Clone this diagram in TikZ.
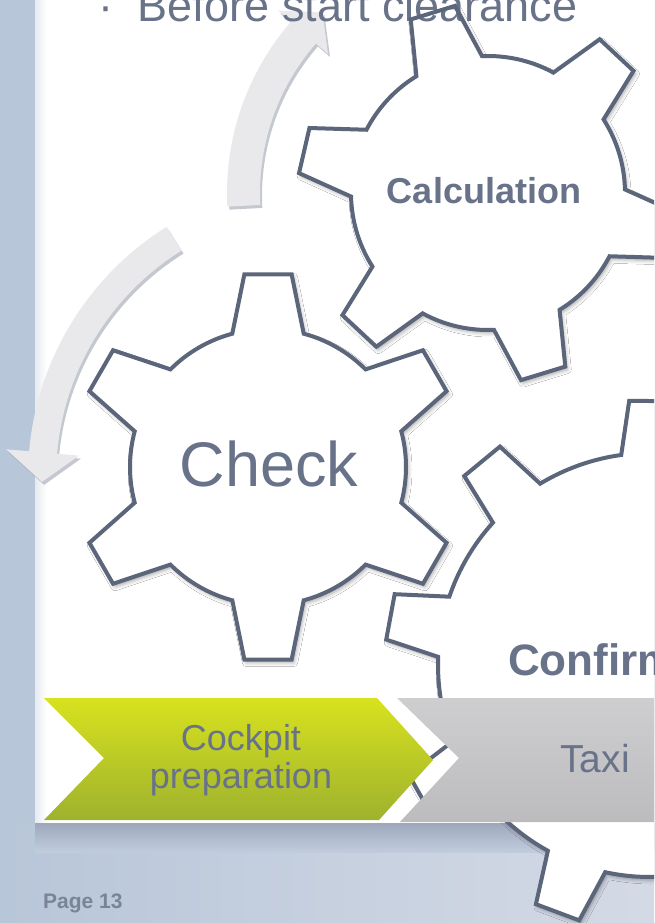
\documentclass[tikz,border=0pt]{standalone}
\usepackage{fontspec}
\setmainfont{Liberation Sans}
\usetikzlibrary{shadows,shadows.blur}

\definecolor{slidetext}{RGB}{104,114,137}
\definecolor{pagetext}{RGB}{122,132,152}
\definecolor{gearedge}{RGB}{92,102,122}
\definecolor{sidebar}{RGB}{184,198,217}
\definecolor{bgright}{RGB}{212,218,229}
\definecolor{arrowgray}{RGB}{233,233,236}
\definecolor{arrowshade}{RGB}{172,177,188}
\definecolor{greentop}{RGB}{216,226,30}
\definecolor{greenbot}{RGB}{158,178,46}
\definecolor{taxitop}{RGB}{206,205,207}
\definecolor{taxibot}{RGB}{188,187,189}

% gear outline: #1 style, #2 centre, #3 teeth, #4 first tooth angle,
% #5 root radius, #6 tip radius, #7 half angle at root, #8 half angle at tip
\newcommand{\gearshape}[8]{%
  \pgfmathtruncatemacro{\glast}{#3-1}
  \path[#1,shift={#2}] ({#4-#7}:#5)
    \foreach \k [evaluate=\k as \a using #4+360/#3*\k] in {0,...,\glast}{
      -- ({\a-#7}:#5) -- ({\a-#8}:#6) -- ({\a+#8}:#6) -- ({\a+#7}:#5)
      arc[start angle=\a+#7, end angle=\a+360/#3-#7, radius=#5]
    } -- cycle;}

\begin{document}
\begin{tikzpicture}[x=1pt,y=1pt,
    gearline/.style={draw=gearedge, line width=4pt},
    gearbody/.style={fill=white, blur shadow={shadow xshift=2pt, shadow yshift=-3pt, shadow blur radius=4pt, shadow opacity=35}},
    curvedarrow/.style={fill=arrowgray, preaction={fill=arrowshade, opacity=.7, transform canvas={shift={(2pt,-3pt)}}}},
    slide/.style={text=slidetext, inner sep=0pt}]
    \clip (0,0) rectangle (654,-923);

    % Background and slide panel
    \shade[left color=sidebar, right color=bgright] (0,0) rectangle (654,-923);
    \fill[sidebar] (0,0) rectangle (35,-823);
    \fill[white] (35,0) rectangle (654,-823);
    \shade[left color=sidebar!35, right color=white] (35,0) rectangle (47,-823);
    \shade[top color={rgb,255:red,158;green,168;blue,188}, bottom color=sidebar!70!bgright] (35,-823) rectangle (654,-852);

    % Curved arrows
    \begin{scope}[shift={(488,-193)}]
        \path[curvedarrow] (183:261) arc[start angle=183, end angle=139, radius=261]
            -- (139:278) -- (132.5:245) -- (139:212) -- (139:228)
            arc[start angle=139, end angle=183, radius=228] -- cycle;
    \end{scope}
    \begin{scope}[shift={(323,-477)}]
        \path[curvedarrow] (122:295) arc[start angle=122, end angle=175, radius=295]
            -- (175:318) -- (181:281) -- (175:245) -- (175:267)
            arc[start angle=175, end angle=122, radius=267] -- cycle;
    \end{scope}

    % Gears
    \gearshape{gearbody,gearline}{(268,-467)}{6}{30}{138}{194}{15}{7}
    \gearshape{gearbody}{(488,-193)}{6}{47}{137}{190}{14.5}{7}
    \gearshape{gearbody,gearline}{(650,-665)}{9}{9.5}{212}{265}{8.3}{5}

    % Title line
    \node[slide, font=\fontsize{45}{45}\selectfont, anchor=base] (bullet) at (106,-22) {·};
    \node[slide, font=\fontsize{45}{45}\selectfont, anchor=base west] (title) at (137,-22) {Before start clearance};

    \gearshape{gearline}{(488,-193)}{6}{47}{137}{190}{14.5}{7}

    % Process banner
    \shade[top color=greentop, bottom color=greenbot] (44,-698) -- (377,-698) -- (433,-760)
        -- (379,-820) -- (44,-820) -- (104,-758) -- cycle;
    \shade[top color=taxitop, bottom color=taxibot] (397,-698) -- (660,-698) -- (660,-822)
        -- (400,-822) -- (459,-758) -- cycle;
    \node[slide, align=center, font=\fontsize{36}{38}\selectfont] (cockpit) at (241,-760) {Cockpit\\preparation};
    \node[slide, font=\fontsize{39}{39}\selectfont, anchor=base] (taxi) at (595,-772) {Taxi};

    % Gear labels
    \node[slide, font=\bfseries\fontsize{36}{36}\selectfont, anchor=base] (calc) at (484,-203) {Calculation};
    \node[slide, font=\fontsize{63}{63}\selectfont, anchor=base] (check) at (269,-486) {Check};
    \node[slide, font=\bfseries\fontsize{44}{44}\selectfont, anchor=base west] (confirm) at (508,-675) {Confirm};

    \node[text=pagetext, inner sep=0pt, font=\bfseries\fontsize{21}{21}\selectfont, anchor=base west] (page) at (43,-908) {Page 13};
\end{tikzpicture}
\end{document}
